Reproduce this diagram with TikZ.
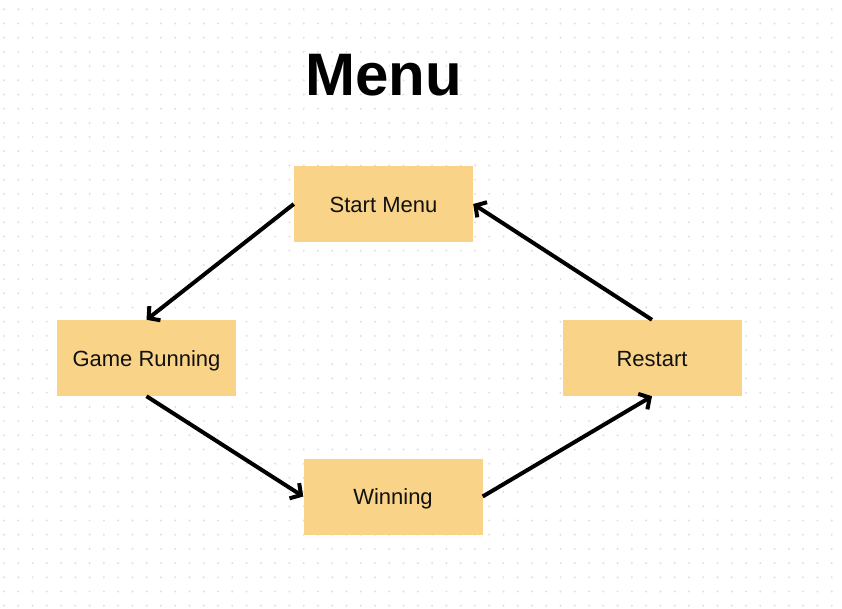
\documentclass[tikz,border=0pt]{standalone}
\usepackage{fontspec}
\setmainfont{Liberation Sans}
\usetikzlibrary{arrows.meta}
\definecolor{boxfill}{HTML}{F9D388}
\definecolor{dotgray}{HTML}{E0E0E0}
\definecolor{ink}{HTML}{111111}
\tikzset{
  box/.style={fill=boxfill, minimum width=179pt, minimum height=76pt, inner sep=0pt, text=ink, text height=16pt, text depth=0pt, font=\fontsize{22}{26}\selectfont},
  arrow/.style={-{Straight Barb[length=8pt,width=18pt]}, line width=4pt, draw=black},
  griddot/.style={fill=dotgray}
}

\begin{document}
\begin{tikzpicture}[x=1pt, y=-1pt]
  \useasboundingbox (0,0) rectangle (842,608);
  \fill[white] (0,0) rectangle (842,608);
  % dotted canvas
  \foreach \i in {0,...,58}
    \foreach \j in {0,...,42}
      \fill[griddot] (4+14.27*\i, 9.3+14.2*\j) circle (1.1pt);
  \node[font=\fontsize{60}{62}\selectfont\bfseries] (title) at (383.5,75) {Menu};
  \node[box] (start) at (383.5,204) {Start Menu};
  \node[box] (running) at (146.5,358) {Game Running};
  \node[box] (restart) at (652,358) {Restart};
  \node[box] (winning) at (393,496.5) {Winning};
  \draw[arrow] (start.west) -- (running.north);
  \draw[arrow] (running.south) -- (winning.west);
  \draw[arrow] (winning.east) -- (restart.south);
  \draw[arrow] (restart.north) -- (start.east);
\end{tikzpicture}
\end{document}
